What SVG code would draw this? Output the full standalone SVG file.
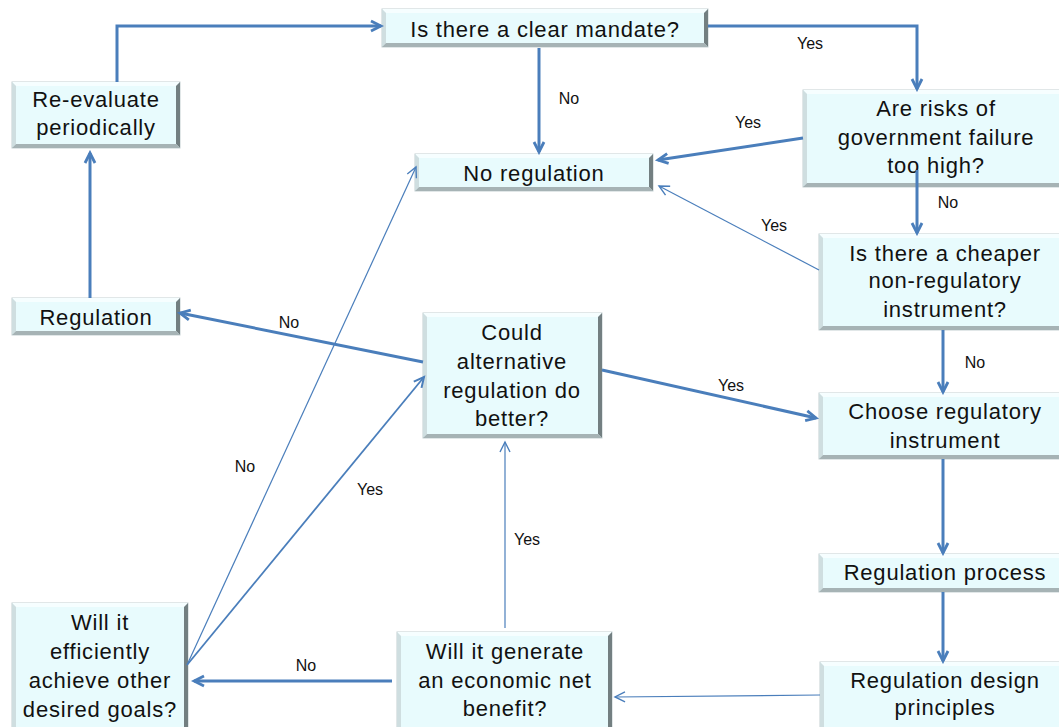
<svg xmlns="http://www.w3.org/2000/svg" width="1059" height="727" viewBox="0 0 1059 727">
  <style>
    .base { fill: #E8FBFD; stroke: #C3D0D2; stroke-width: 1; }
    .bt { fill: #F6FEFF; }
    .bl { fill: #CFDEE0; }
    .br { fill: #737F81; }
    .bb { fill: #A6B3B5; }
    .lbl { font-family: "Liberation Sans", Arial, sans-serif; font-size: 22px; letter-spacing: 0.8px; fill: #111; text-anchor: middle; }
    .ans { font-family: "Liberation Sans", Arial, sans-serif; font-size: 16px; fill: #111; text-anchor: middle; }
    .c { fill: none; stroke: #4A7EBB; stroke-linejoin: miter; }
    .thick { stroke-width: 3; marker-end: url(#headThick); }
    .mid { stroke-width: 1.8; marker-end: url(#headMid); }
    .thin { stroke-width: 1.2; marker-end: url(#headThin); }
  </style>
  <defs>
    <marker id="headThick" viewBox="-3 -3 16 16" refX="10" refY="5" markerWidth="16" markerHeight="16" markerUnits="userSpaceOnUse" orient="auto">
      <path d="M0,0 L10,5 L0,10" fill="none" stroke="#4A7EBB" stroke-width="2.8"/>
    </marker>
    <marker id="headMid" viewBox="-3 -3 16 16" refX="10" refY="5" markerWidth="16" markerHeight="16" markerUnits="userSpaceOnUse" orient="auto">
      <path d="M0,0 L10,5 L0,10" fill="none" stroke="#4A7EBB" stroke-width="2"/>
    </marker>
    <marker id="headThin" viewBox="-3 -3 16 16" refX="10" refY="5" markerWidth="16" markerHeight="16" markerUnits="userSpaceOnUse" orient="auto">
      <path d="M0,0 L10,5 L0,10" fill="none" stroke="#4A7EBB" stroke-width="1.4"/>
    </marker>
  </defs>
  <rect width="1059" height="727" fill="#FFFFFF"/>

  <g id="nodes">
    <g id="mandate">
      <rect class="base" x="382" y="9" width="326" height="38"/>
      <polygon class="bt" points="382,9 708,9 704,13 386,13"/>
      <polygon class="bl" points="382,9 386,13 386,43 382,47"/>
      <polygon class="br" points="708,9 708,47 704,43 704,13"/>
      <polygon class="bb" points="382,47 708,47 704,43 386,43"/>
      <text class="lbl" x="545" y="37">Is there a clear mandate?</text>
    </g>
    <g id="reevaluate">
      <rect class="base" x="12" y="82" width="168" height="66"/>
      <polygon class="bt" points="12,82 180,82 176,86 16,86"/>
      <polygon class="bl" points="12,82 16,86 16,144 12,148"/>
      <polygon class="br" points="180,82 180,148 176,144 176,86"/>
      <polygon class="bb" points="12,148 180,148 176,144 16,144"/>
      <text class="lbl" x="96" y="107">Re-evaluate</text>
      <text class="lbl" x="96" y="135">periodically</text>
    </g>
    <g id="risks">
      <rect class="base" x="803" y="90" width="266" height="97"/>
      <polygon class="bt" points="803,90 1069,90 1065,94 807,94"/>
      <polygon class="bl" points="803,90 807,94 807,183 803,187"/>
      <polygon class="br" points="1069,90 1069,187 1065,183 1065,94"/>
      <polygon class="bb" points="803,187 1069,187 1065,183 807,183"/>
      <text class="lbl" x="936" y="116">Are risks of</text>
      <text class="lbl" x="936" y="145">government failure</text>
      <text class="lbl" x="936" y="173">too high?</text>
    </g>
    <g id="no-regulation">
      <rect class="base" x="415" y="154" width="238" height="37"/>
      <polygon class="bt" points="415,154 653,154 649,158 419,158"/>
      <polygon class="bl" points="415,154 419,158 419,187 415,191"/>
      <polygon class="br" points="653,154 653,191 649,187 649,158"/>
      <polygon class="bb" points="415,191 653,191 649,187 419,187"/>
      <text class="lbl" x="534" y="181">No regulation</text>
    </g>
    <g id="cheaper">
      <rect class="base" x="819" y="234" width="252" height="96"/>
      <polygon class="bt" points="819,234 1071,234 1067,238 823,238"/>
      <polygon class="bl" points="819,234 823,238 823,326 819,330"/>
      <polygon class="br" points="1071,234 1071,330 1067,326 1067,238"/>
      <polygon class="bb" points="819,330 1071,330 1067,326 823,326"/>
      <text class="lbl" x="945" y="261">Is there a cheaper</text>
      <text class="lbl" x="945" y="288">non-regulatory</text>
      <text class="lbl" x="945" y="317">instrument?</text>
    </g>
    <g id="choose">
      <rect class="base" x="819" y="393" width="252" height="66"/>
      <polygon class="bt" points="819,393 1071,393 1067,397 823,397"/>
      <polygon class="bl" points="819,393 823,397 823,455 819,459"/>
      <polygon class="br" points="1071,393 1071,459 1067,455 1067,397"/>
      <polygon class="bb" points="819,459 1071,459 1067,455 823,455"/>
      <text class="lbl" x="945" y="419">Choose regulatory</text>
      <text class="lbl" x="945" y="448">instrument</text>
    </g>
    <g id="process">
      <rect class="base" x="819" y="554" width="252" height="38"/>
      <polygon class="bt" points="819,554 1071,554 1067,558 823,558"/>
      <polygon class="bl" points="819,554 823,558 823,588 819,592"/>
      <polygon class="br" points="1071,554 1071,592 1067,588 1067,558"/>
      <polygon class="bb" points="819,592 1071,592 1067,588 823,588"/>
      <text class="lbl" x="945" y="580">Regulation process</text>
    </g>
    <g id="design">
      <rect class="base" x="820" y="662" width="252" height="70"/>
      <polygon class="bt" points="820,662 1072,662 1068,666 824,666"/>
      <polygon class="bl" points="820,662 824,666 824,728 820,732"/>
      <polygon class="br" points="1072,662 1072,732 1068,728 1068,666"/>
      <polygon class="bb" points="820,732 1072,732 1068,728 824,728"/>
      <text class="lbl" x="945" y="688">Regulation design</text>
      <text class="lbl" x="945" y="715">principles</text>
    </g>
    <g id="net-benefit">
      <rect class="base" x="397" y="632" width="215" height="100"/>
      <polygon class="bt" points="397,632 612,632 608,636 401,636"/>
      <polygon class="bl" points="397,632 401,636 401,728 397,732"/>
      <polygon class="br" points="612,632 612,732 608,728 608,636"/>
      <polygon class="bb" points="397,732 612,732 608,728 401,728"/>
      <text class="lbl" x="505" y="659">Will it generate</text>
      <text class="lbl" x="505" y="688">an economic net</text>
      <text class="lbl" x="505" y="716">benefit?</text>
    </g>
    <g id="other-goals">
      <rect class="base" x="12" y="603" width="176" height="130"/>
      <polygon class="bt" points="12,603 188,603 184,607 16,607"/>
      <polygon class="bl" points="12,603 16,607 16,729 12,733"/>
      <polygon class="br" points="188,603 188,733 184,729 184,607"/>
      <polygon class="bb" points="12,733 188,733 184,729 16,729"/>
      <text class="lbl" x="100" y="630">Will it</text>
      <text class="lbl" x="100" y="659">efficiently</text>
      <text class="lbl" x="100" y="688">achieve other</text>
      <text class="lbl" x="100" y="717">desired goals?</text>
    </g>
    <g id="regulation">
      <rect class="base" x="12" y="298" width="168" height="37"/>
      <polygon class="bt" points="12,298 180,298 176,302 16,302"/>
      <polygon class="bl" points="12,298 16,302 16,331 12,335"/>
      <polygon class="br" points="180,298 180,335 176,331 176,302"/>
      <polygon class="bb" points="12,335 180,335 176,331 16,331"/>
      <text class="lbl" x="96" y="325">Regulation</text>
    </g>
    <g id="alternative">
      <rect class="base" x="423" y="313" width="179" height="125"/>
      <polygon class="bt" points="423,313 602,313 598,317 427,317"/>
      <polygon class="bl" points="423,313 427,317 427,434 423,438"/>
      <polygon class="br" points="602,313 602,438 598,434 598,317"/>
      <polygon class="bb" points="423,438 602,438 598,434 427,434"/>
      <text class="lbl" x="512" y="340">Could</text>
      <text class="lbl" x="512" y="369">alternative</text>
      <text class="lbl" x="512" y="398">regulation do</text>
      <text class="lbl" x="512" y="426">better?</text>
    </g>
  </g>

  <g id="connectors">
    <path class="c thick" d="M117,82 V26 H381"/>
    <path class="c thick" d="M708,26 H917 V89"/>
    <path class="c thick" d="M539,48 V152"/>
    <path class="c thick" d="M803,138 L658,160"/>
    <path class="c thick" d="M917,170 V233"/>
    <path class="c thin" d="M819,270 L659,186"/>
    <path class="c thick" d="M943,330 V392"/>
    <path class="c thick" d="M943,459 V553"/>
    <path class="c thick" d="M943,592 V661"/>
    <path class="c thin" d="M820,695 L615,697"/>
    <path class="c thick" d="M392,681 H194"/>
    <path class="c thin" d="M505,628 V442"/>
    <path class="c mid" d="M187,665 L424,377"/>
    <path class="c thin" d="M187,665 L416,167"/>
    <path class="c thick" d="M423,362 L180,313"/>
    <path class="c thick" d="M602,370 L816,418"/>
    <path class="c thick" d="M90,298 V153"/>
  </g>

  <g id="answers">
    <text class="ans" x="810" y="49">Yes</text>
    <text class="ans" x="569" y="104">No</text>
    <text class="ans" x="748" y="128">Yes</text>
    <text class="ans" x="948" y="208">No</text>
    <text class="ans" x="774" y="231">Yes</text>
    <text class="ans" x="975" y="368">No</text>
    <text class="ans" x="289" y="328">No</text>
    <text class="ans" x="731" y="391">Yes</text>
    <text class="ans" x="245" y="472">No</text>
    <text class="ans" x="370" y="495">Yes</text>
    <text class="ans" x="527" y="545">Yes</text>
    <text class="ans" x="306" y="671">No</text>
  </g>
</svg>
